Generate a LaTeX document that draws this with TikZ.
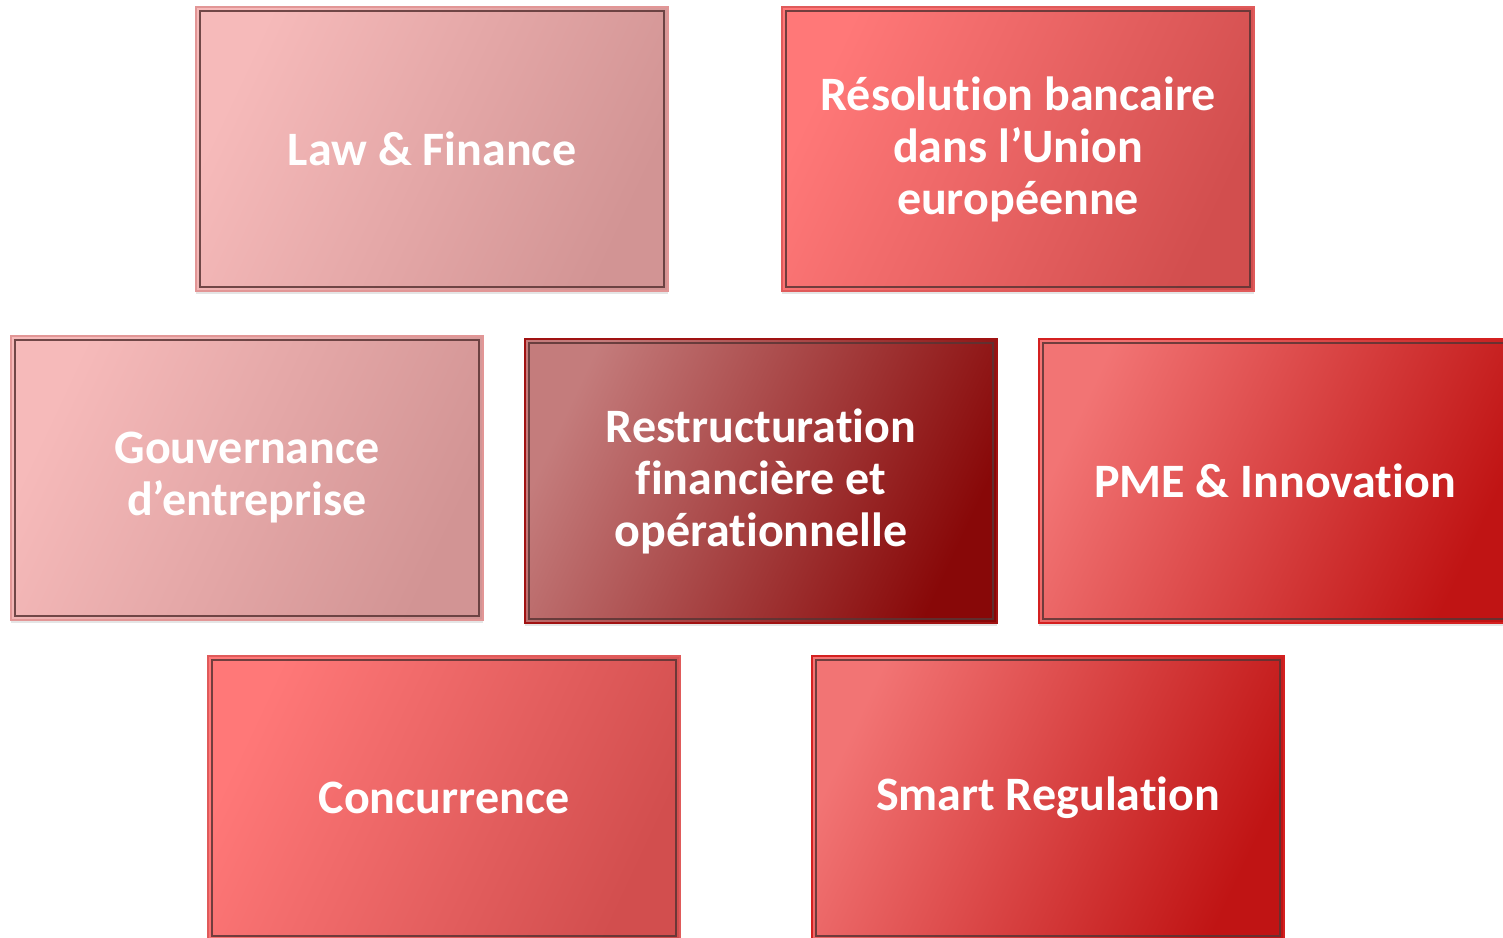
\documentclass[tikz,border=0pt]{standalone}
\usepackage{fontspec}
\setmainfont{Carlito}[Ligatures=NoCommon]
\usetikzlibrary{shadows}
\definecolor{pinkA}{HTML}{F6BABA}
\definecolor{pinkB}{HTML}{D29494}
\definecolor{pinkE}{HTML}{E29696}
\definecolor{coralA}{HTML}{FF7878}
\definecolor{coralB}{HTML}{D24E4E}
\definecolor{coralE}{HTML}{E05A5A}
\definecolor{redA}{HTML}{F27474}
\definecolor{redB}{HTML}{C01414}
\definecolor{redE}{HTML}{D42020}
\definecolor{darkA}{HTML}{C47C7C}
\definecolor{darkB}{HTML}{880808}
\definecolor{darkE}{HTML}{A01212}
\definecolor{innerline}{HTML}{5A3434}
\tikzset{
  tile/.style={rectangle, minimum width=472pt, minimum height=284pt, line width=2.5pt,
    text=white, align=center, inner sep=0pt,
    font=\fontsize{48}{52}\selectfont\bfseries,
    drop shadow={opacity=0.2, shadow xshift=0pt, shadow yshift=-3pt}},
  pinktile/.style={tile, draw=pinkE, top color=pinkA, bottom color=pinkB, shading angle=65},
  coraltile/.style={tile, draw=coralE, top color=coralA, bottom color=coralB, shading angle=65},
  redtile/.style={tile, draw=redE, top color=redA, bottom color=redB, shading angle=65},
  darktile/.style={tile, draw=darkE, top color=darkA, bottom color=darkB, shading angle=65},
  innerframe/.style={draw=innerline, line width=1.6pt, draw opacity=0.85}
}
\newcommand{\innerbox}[1]{%
  \draw[innerframe] ([xshift=5pt,yshift=-5pt]#1.north west) rectangle ([xshift=-5pt,yshift=5pt]#1.south east);}
\begin{document}
\begin{tikzpicture}[x=1pt,y=-1pt]
\useasboundingbox (0,0) rectangle (1503,937);
\clip (0,0) rectangle (1503,937);
\fill[white] (0,0) rectangle (1503,937);
\node[pinktile]  (law)   at (432,149) {Law \& Finance};
\node[coraltile] (resol) at (1018,149) {Résolution bancaire\\dans l’Union\\européenne};
\node[pinktile]  (gouv)  at (247,478) {Gouvernance\\d’entreprise};
\node[darktile]  (restr) at (761,481) {Restructuration\\financière et\\opérationnelle};
\node[redtile]   (pme)   at (1275,481) {PME \& Innovation};
\node[coraltile] (conc)  at (444,798) {Concurrence};
\node[redtile]   (smart) at (1048,798) {Smart Regulation};
\innerbox{law}
\innerbox{resol}
\innerbox{gouv}
\innerbox{restr}
\innerbox{pme}
\innerbox{conc}
\innerbox{smart}
\end{tikzpicture}
\end{document}
